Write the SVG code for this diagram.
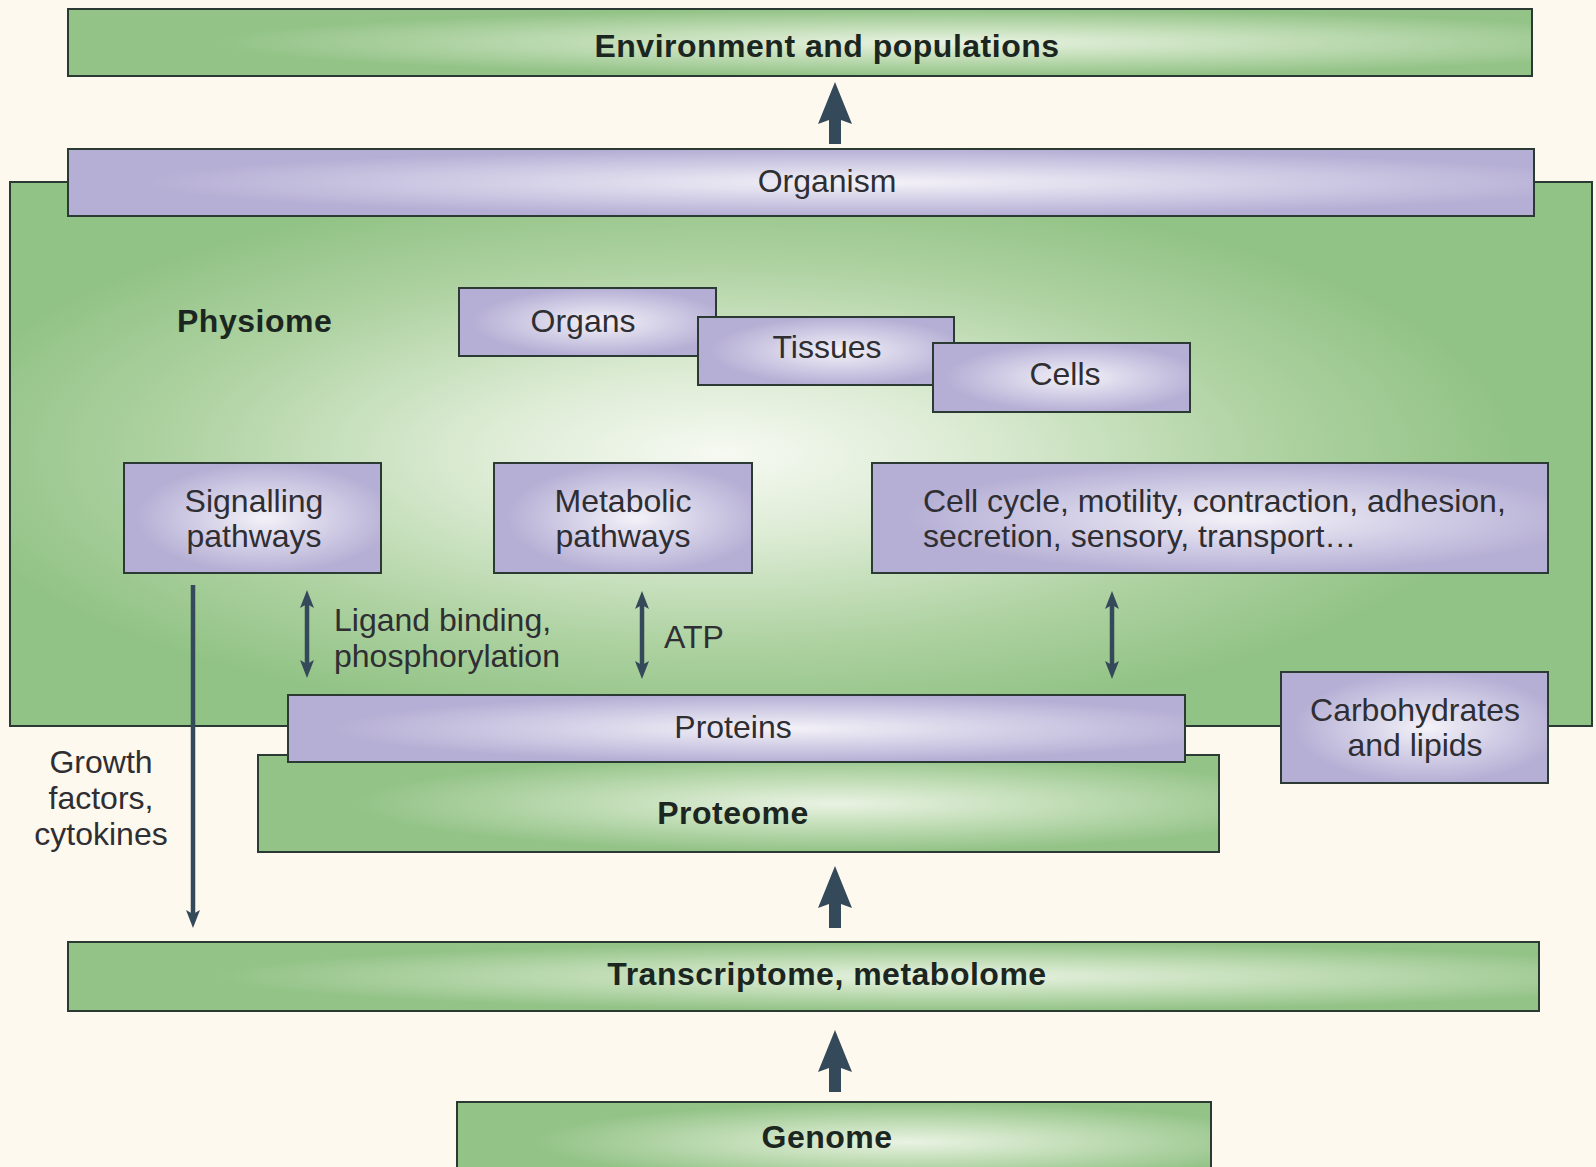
<svg xmlns="http://www.w3.org/2000/svg" xmlns:xlink="http://www.w3.org/1999/xlink" width="1596" height="1167" viewBox="0 0 1596 1167">
<defs>
  <radialGradient id="gGreen" cx="0.6" cy="0.5" r="0.5">
    <stop offset="0" stop-color="#E9F3E3"/>
    <stop offset="0.45" stop-color="#C3DEB8"/>
    <stop offset="1" stop-color="#93C387"/>
  </radialGradient>
  <radialGradient id="gPurple" cx="0.55" cy="0.5" r="0.5">
    <stop offset="0" stop-color="#F4F2F8"/>
    <stop offset="0.5" stop-color="#D4D0E7"/>
    <stop offset="1" stop-color="#B6AFD5"/>
  </radialGradient>
  <radialGradient id="gPhysiome" cx="0.45" cy="0.5" r="0.5">
    <stop offset="0" stop-color="#F6F9F2"/>
    <stop offset="0.3" stop-color="#DDECD5"/>
    <stop offset="0.7" stop-color="#AED2A1"/>
    <stop offset="1" stop-color="#92C386"/>
  </radialGradient>
  <marker id="head" viewBox="0 -8 18 16" refX="4" refY="0" markerWidth="18" markerHeight="16" markerUnits="userSpaceOnUse" orient="auto-start-reverse">
    <path d="M0,-7 L18,0 L0,7 L4,0 Z" fill="#34495A"/>
  </marker>
  <path id="bigArrow" d="M0,0 L17,42 L6,38 L6,62 L-6,62 L-6,38 L-17,42 Z" fill="#34495A"/>
  <style>
    .box { stroke: #2B3A33; stroke-width: 2; }
    .green { fill: url(#gGreen); }
    .purple { fill: url(#gPurple); }
    .t { font-family: "Liberation Sans", Arial, sans-serif; font-size: 32px; fill: #2E2E33; }
    .b { font-family: "Liberation Sans", Arial, sans-serif; font-size: 32px; font-weight: bold; fill: #1C2620; letter-spacing: 0.5px; }
    .m { text-anchor: middle; }
    .line { stroke: #34495A; stroke-width: 4.5; fill: none; }
  </style>
</defs>
<rect x="0" y="0" width="1596" height="1167" fill="#FEF9EE"/>

<g id="physiome">
  <rect class="box" x="10" y="182" width="1582" height="544" fill="url(#gPhysiome)"/>
  <text class="b" x="177" y="332">Physiome</text>
</g>
<g id="environment">
  <rect class="box green" x="68" y="9" width="1464" height="67"/>
  <text class="b m" x="827" y="57">Environment and populations</text>
</g>
<g id="organism">
  <rect class="box purple" x="68" y="149" width="1466" height="67"/>
  <text class="t m" x="827" y="192">Organism</text>
</g>
<g id="organs">
  <rect class="box purple" x="459" y="288" width="257" height="68"/>
  <text class="t m" x="583" y="332">Organs</text>
</g>
<g id="tissues">
  <rect class="box purple" x="698" y="317" width="256" height="68"/>
  <text class="t m" x="827" y="358">Tissues</text>
</g>
<g id="cells">
  <rect class="box purple" x="933" y="343" width="257" height="69"/>
  <text class="t m" x="1065" y="385">Cells</text>
</g>
<g id="signalling">
  <rect class="box purple" x="124" y="463" width="257" height="110"/>
  <text class="t m" x="254" y="512">Signalling</text>
  <text class="t m" x="254" y="547">pathways</text>
</g>
<g id="metabolic">
  <rect class="box purple" x="494" y="463" width="258" height="110"/>
  <text class="t m" x="623" y="512">Metabolic</text>
  <text class="t m" x="623" y="547">pathways</text>
</g>
<g id="cellcycle">
  <rect class="box purple" x="872" y="463" width="676" height="110"/>
  <text class="t" x="923" y="512">Cell cycle, motility, contraction, adhesion,</text>
  <text class="t" x="923" y="547">secretion, sensory, transport…</text>
</g>
<g id="proteome">
  <rect class="box green" x="258" y="755" width="961" height="97"/>
  <text class="b m" x="733" y="824">Proteome</text>
</g>
<g id="proteins">
  <rect class="box purple" x="288" y="695" width="897" height="67"/>
  <text class="t m" x="733" y="738">Proteins</text>
</g>
<g id="carbohydrates">
  <rect class="box purple" x="1281" y="672" width="267" height="111"/>
  <text class="t m" x="1415" y="721">Carbohydrates</text>
  <text class="t m" x="1415" y="756">and lipids</text>
</g>
<g id="transcriptome">
  <rect class="box green" x="68" y="942" width="1471" height="69"/>
  <text class="b m" x="827" y="985">Transcriptome, metabolome</text>
</g>
<g id="genome">
  <rect class="box green" x="457" y="1102" width="754" height="80"/>
  <text class="b m" x="827" y="1148">Genome</text>
</g>

<g id="connectors">
  <use xlink:href="#bigArrow" href="#bigArrow" x="835" y="82"/>
  <use xlink:href="#bigArrow" href="#bigArrow" x="835" y="866"/>
  <use xlink:href="#bigArrow" href="#bigArrow" x="835" y="1030"/>
  <line class="line" x1="307" y1="604" x2="307" y2="664" marker-start="url(#head)" marker-end="url(#head)"/>
  <line class="line" x1="642" y1="605" x2="642" y2="665" marker-start="url(#head)" marker-end="url(#head)"/>
  <line class="line" x1="1112" y1="605" x2="1112" y2="665" marker-start="url(#head)" marker-end="url(#head)"/>
  <line class="line" x1="193" y1="585" x2="193" y2="914" marker-end="url(#head)"/>
  <text class="t" x="334" y="631">Ligand binding,</text>
  <text class="t" x="334" y="667">phosphorylation</text>
  <text class="t" x="664" y="648">ATP</text>
  <text class="t m" x="101" y="773">Growth</text>
  <text class="t m" x="101" y="809">factors,</text>
  <text class="t m" x="101" y="845">cytokines</text>
</g>
</svg>
